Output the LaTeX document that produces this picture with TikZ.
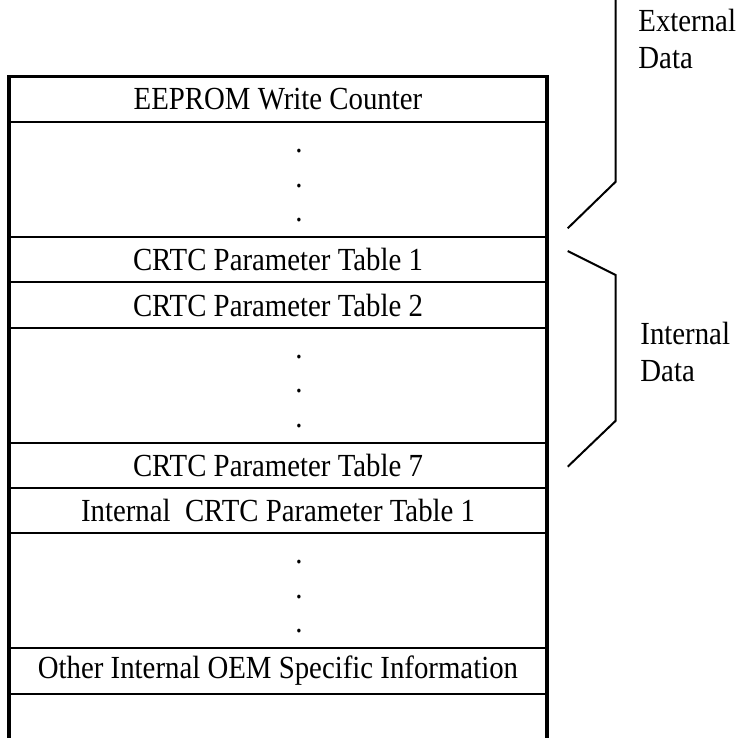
\documentclass[tikz,border=0pt]{standalone}
\usepackage{fontspec}
\setmainfont{Liberation Serif}[FakeStretch=0.895]
\usepackage{tikz}
\usetikzlibrary{calc}
\usetikzlibrary{positioning}

\begin{document}
\begin{tikzpicture}[x=0.5pt,y=-0.5pt,font=\fontsize{16.1pt}{18.5pt}\selectfont]
				\tikzstyle{cell}=[draw, rectangle, minimum width=269pt, minimum height=22.7pt, inner sep=0pt, outer sep=0pt, line width=1pt]
				\tikzstyle{gap}=[cell, minimum height=57.4pt]
				\tikzstyle{dot}=[inner sep=0pt, anchor=center]
				\tikzstyle{brace}=[draw, line width=1pt, line join=miter]
				\useasboundingbox (0,0) rectangle (739,738);
				\clip (0,0) rectangle (739,738);
 					 % the table, one row under the other
 					 \node[cell]         (eeprom) at (278,99.4)   {EEPROM Write Counter};
 					 \node[gap]          (gapA) [below=0pt of eeprom] {};
 					 \node[cell]         (crtcA) [below=0pt of gapA]  {CRTC Parameter Table 1};
 					 \node[cell]         (crtcB) [below=0pt of crtcA] {CRTC Parameter Table 2};
 					 \node[gap]          (gapB) [below=0pt of crtcB] {};
 					 \node[cell]         (crtcG) [below=0pt of gapB]  {CRTC Parameter Table 7};
 					 \node[cell]         (intA) [below=0pt of crtcG]  {Internal~ CRTC Parameter Table 1};
 					 \node[gap]          (gapC) [below=0pt of intA] {};
 					 \node[cell]         (oem) [below=0pt of gapC]    {Other Internal OEM Specific Information};
 					 \node[cell, minimum height=26pt] (tail) [below=0pt of oem] {};
 					 \draw[line width=1.75pt] (eeprom.north west) rectangle (tail.south east);
 					 % dots in the open rows
 					 \foreach \g in {gapA,gapB,gapC}
 					 		\foreach \d in {29,63.5,98}
 					 			\node[dot] at ($(\g.north)+(21,\d)$) {.};
 					 % braces and their labels
 					 \coordinate (extTop) at (615.7,-4);
 					 \coordinate (extBend) at (615.7,181.7);
 					 \coordinate (extEnd) at (567.7,228.3);
 					 \coordinate (intStart) at (567.7,251);
 					 \coordinate (intBendA) at (615.7,275);
 					 \coordinate (intBendB) at (615.7,420.7);
 					 \coordinate (intEnd) at (567.7,466.7);
 					 \path[brace] (extTop) -- (extBend) -- (extEnd);
 					 \path[brace] (intStart) -- (intBendA) -- (intBendB) -- (intEnd);
 					 \node[align=left, anchor=west, inner sep=0pt] (extLabel) at (638,39) {External\\Data};
 					 \node[align=left, anchor=west, inner sep=0pt] (intLabel) at (640,352) {Internal\\Data};
\end{tikzpicture}
\end{document}
